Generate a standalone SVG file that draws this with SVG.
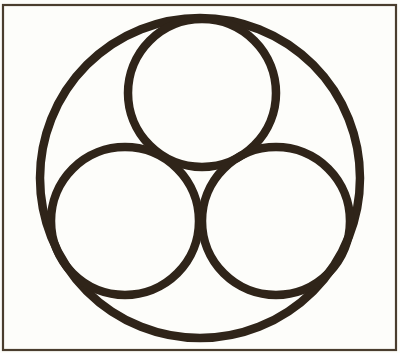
<svg xmlns="http://www.w3.org/2000/svg" width="400" height="353" viewBox="0 0 400 353">
<style>
.ring{fill:none;stroke:#2f2419;stroke-width:8.5}
.frame{fill:none;stroke:#4a3d2e;stroke-width:2.2}
</style>
<rect x="0" y="0" width="400" height="353" fill="#fdfdfa"/>
<g id="frame"><rect class="frame" x="3" y="5" width="393" height="345"/></g>
<g id="outer"><circle class="ring" cx="200" cy="178" r="160"/></g>
<g id="top"><circle class="ring" cx="202" cy="93" r="74"/></g>
<g id="left"><circle class="ring" cx="125" cy="221" r="74"/></g>
<g id="right"><circle class="ring" cx="276" cy="221" r="74"/></g>
<g id="connectors"></g>
</svg>
